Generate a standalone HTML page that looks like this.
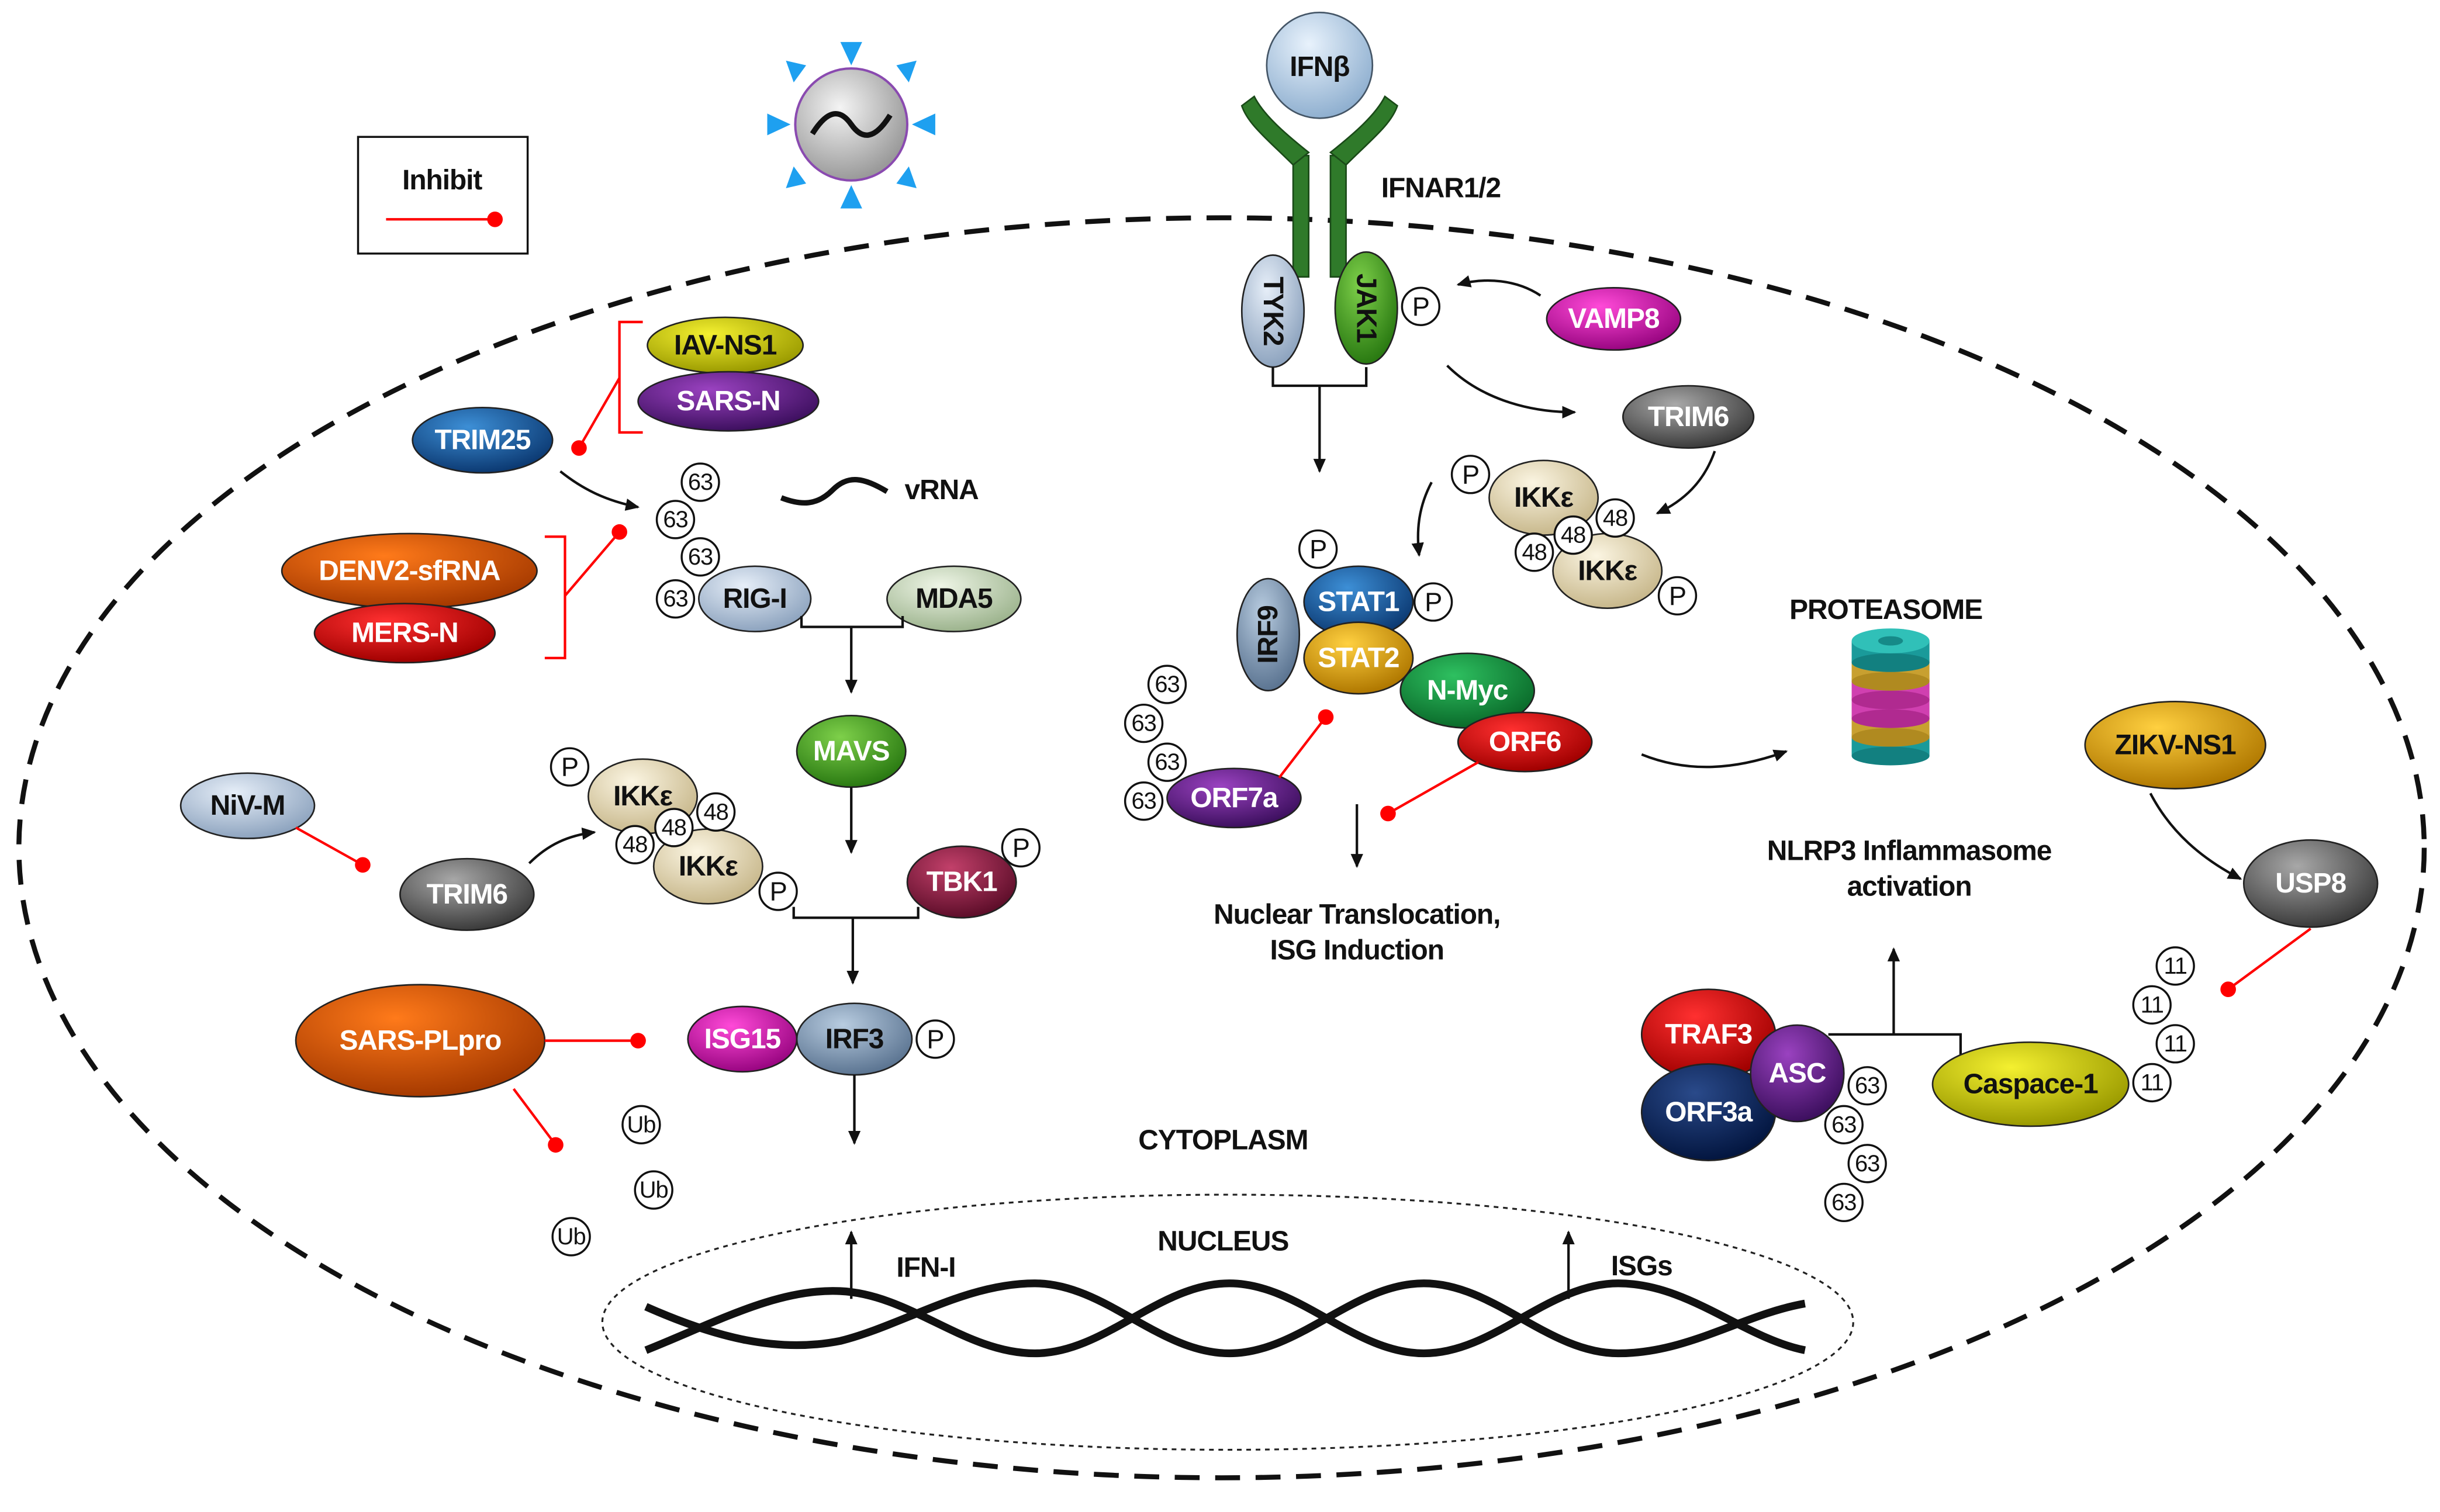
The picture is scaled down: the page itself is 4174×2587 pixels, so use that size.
<!DOCTYPE html>
<html><head><meta charset="utf-8"><style>
html,body{margin:0;padding:0;background:#fff}
svg{display:block}
text{font-family:"Liberation Sans Narrow","Liberation Sans",sans-serif;font-weight:bold;font-size:18px;letter-spacing:-0.4px;text-anchor:middle;dominant-baseline:central}
.w{fill:#fff}.k{fill:#111}
.c{fill:#fff;stroke:#111;stroke-width:1.3}
.cn{font-size:15px;font-weight:normal}
.ln{stroke:#111;stroke-width:1.6;fill:none}
.rd{stroke:#f00;stroke-width:1.6;fill:none}
.e{stroke:#222;stroke-width:1}
</style></head><body>
<svg width="4174" height="2587" viewBox="0 0 1568 972" xmlns="http://www.w3.org/2000/svg">
<defs>
<marker id="ar" markerWidth="10" markerHeight="10" refX="8" refY="5" orient="auto" markerUnits="userSpaceOnUse"><path d="M0,1 L9,5 L0,9 z" fill="#111"/></marker>
<radialGradient id="gBlue" cx="40%" cy="30%" r="70%"><stop offset="0" stop-color="#3d8fd6"/><stop offset="1" stop-color="#0c3a73"/></radialGradient>
<radialGradient id="gOr" cx="40%" cy="30%" r="70%"><stop offset="0" stop-color="#ff7a1a"/><stop offset="1" stop-color="#a63a00"/></radialGradient>
<radialGradient id="gRed" cx="40%" cy="30%" r="70%"><stop offset="0" stop-color="#ff3030"/><stop offset="1" stop-color="#a00000"/></radialGradient>
<radialGradient id="gYel" cx="40%" cy="30%" r="70%"><stop offset="0" stop-color="#f4f030"/><stop offset="1" stop-color="#9a9a00"/></radialGradient>
<radialGradient id="gPur" cx="40%" cy="30%" r="70%"><stop offset="0" stop-color="#9a42c0"/><stop offset="1" stop-color="#3e1060"/></radialGradient>
<radialGradient id="gLb" cx="40%" cy="30%" r="70%"><stop offset="0" stop-color="#e6eef8"/><stop offset="1" stop-color="#8ea4bf"/></radialGradient>
<radialGradient id="gLg" cx="40%" cy="30%" r="70%"><stop offset="0" stop-color="#eef5e6"/><stop offset="1" stop-color="#9db48e"/></radialGradient>
<radialGradient id="gGr" cx="40%" cy="30%" r="70%"><stop offset="0" stop-color="#7ed04a"/><stop offset="1" stop-color="#2a7a12"/></radialGradient>
<radialGradient id="gMar" cx="40%" cy="30%" r="70%"><stop offset="0" stop-color="#c2406a"/><stop offset="1" stop-color="#5e0e2a"/></radialGradient>
<radialGradient id="gGy" cx="40%" cy="30%" r="70%"><stop offset="0" stop-color="#a8a8a8"/><stop offset="1" stop-color="#3c3c3c"/></radialGradient>
<radialGradient id="gBg" cx="40%" cy="30%" r="70%"><stop offset="0" stop-color="#fbf5e2"/><stop offset="1" stop-color="#c8b88c"/></radialGradient>
<radialGradient id="gMag" cx="40%" cy="30%" r="70%"><stop offset="0" stop-color="#ff4ad8"/><stop offset="1" stop-color="#9a0682"/></radialGradient>
<radialGradient id="gBgy" cx="40%" cy="30%" r="70%"><stop offset="0" stop-color="#b8cce0"/><stop offset="1" stop-color="#5c7592"/></radialGradient>
<radialGradient id="gGold" cx="40%" cy="30%" r="70%"><stop offset="0" stop-color="#ffd040"/><stop offset="1" stop-color="#b07800"/></radialGradient>
<radialGradient id="gGrn" cx="40%" cy="30%" r="70%"><stop offset="0" stop-color="#2ec060"/><stop offset="1" stop-color="#0a6a2a"/></radialGradient>
<radialGradient id="gNav" cx="40%" cy="30%" r="70%"><stop offset="0" stop-color="#2a4a8a"/><stop offset="1" stop-color="#031640"/></radialGradient>
<radialGradient id="gVir" cx="40%" cy="35%" r="65%"><stop offset="0" stop-color="#f4f4f4"/><stop offset="1" stop-color="#9a9a9a"/></radialGradient>
<radialGradient id="gIfn" cx="40%" cy="30%" r="70%"><stop offset="0" stop-color="#e8f2fc"/><stop offset="1" stop-color="#90b0d0"/></radialGradient>
</defs>

<!-- legend -->
<rect x="230" y="88" width="109" height="75" fill="#fff" stroke="#111" stroke-width="1.3"/>
<text x="284" y="116" class="k">Inhibit</text>
<line x1="248" y1="141" x2="318" y2="141" class="rd"/><circle cx="318" cy="141" r="5" fill="#f00"/>

<!-- virus -->
<g fill="#1ea0f0">
<polygon points="540,27 554,27 547,42"/><polygon points="540,134 554,134 547,119"/>
<polygon points="493,73 493,87 508,80"/><polygon points="601,73 601,87 586,80"/>
<polygon points="505,39 518,42 510,53"/><polygon points="589,39 576,42 584,53"/>
<polygon points="505,121 518,118 510,107"/><polygon points="589,121 576,118 584,107"/>
</g>
<circle cx="547" cy="80" r="36" fill="url(#gVir)" stroke="#8a4ab0" stroke-width="1.5"/>
<path d="M522,86 C532,70 540,70 547,80 C554,90 562,90 572,74" stroke="#111" stroke-width="3.5" fill="none"/>

<!-- cell & nucleus -->
<ellipse cx="785" cy="545" rx="773" ry="405" fill="none" stroke="#111" stroke-width="3.2" stroke-dasharray="16,10"/>
<ellipse cx="789" cy="850" rx="402" ry="82" fill="none" stroke="#222" stroke-width="1.2" stroke-dasharray="3,3"/>
<path d="M415,840 C460,860 500,870 540,862 C580,852 620,825 665,825 C710,825 745,870 790,870 C835,870 870,825 915,825 C960,825 995,870 1040,870 C1085,870 1120,845 1160,838" stroke="#111" stroke-width="5" fill="none"/>
<path d="M415,868 C460,850 500,828 540,830 C585,832 620,870 665,870 C710,870 745,825 790,825 C835,825 870,870 915,870 C960,870 995,825 1040,825 C1085,825 1120,860 1160,868" stroke="#111" stroke-width="5" fill="none"/>
<line x1="547" y1="835" x2="547" y2="792" class="ln" marker-end="url(#ar)"/>
<line x1="1008" y1="835" x2="1008" y2="792" class="ln" marker-end="url(#ar)"/>
<text x="595" y="815" class="k">IFN-I</text>
<text x="1055" y="814" class="k">ISGs</text>
<text x="786" y="798" class="k">NUCLEUS</text>
<text x="786" y="733" class="k">CYTOPLASM</text>

<!-- receptor -->
<g fill="#2f7a2a" stroke="#1a4a18" stroke-width="1">
<path d="M831,100 L841,100 L841,178 L831,178 z"/><path d="M855,100 L865,100 L865,178 L855,178 z"/>
<path d="M831,106 C815,90 802,80 798,68 L806,62 C812,74 826,86 841,98 z"/><path d="M865,106 C881,90 894,80 898,68 L890,62 C884,74 870,86 855,98 z"/>
</g>
<circle cx="848" cy="42" r="34" fill="url(#gIfn)" stroke="#456" stroke-width="1"/>
<text x="848" y="43" class="k">IFNβ</text>
<text x="926" y="121" class="k">IFNAR1/2</text>
<ellipse cx="818" cy="200" rx="20" ry="36" fill="url(#gLb)" class="e"/>
<text transform="translate(818,200) rotate(90)" class="k">TYK2</text>
<ellipse cx="878" cy="198" rx="20" ry="36" fill="url(#gGr)" class="e"/>
<text transform="translate(878,198) rotate(90)" class="k">JAK1</text>
<circle cx="913" cy="197" r="12" class="c"/><text x="913" y="197" class="k cn" style="font-size:17px">P</text>
<path d="M818,236 L818,248 L878,248 L878,236" class="ln"/>
<line x1="848" y1="248" x2="848" y2="303" class="ln" marker-end="url(#ar)"/>
<ellipse cx="1037" cy="205" rx="43" ry="20" fill="url(#gMag)" class="e"/><text x="1037" y="205" class="w">VAMP8</text>
<path d="M990,190 C975,180 955,178 937,183" class="ln" marker-end="url(#ar)"/>
<path d="M930,235 C950,255 980,265 1012,265" class="ln" marker-end="url(#ar)"/>
<ellipse cx="1085" cy="268" rx="42" ry="20" fill="url(#gGy)" class="e"/><text x="1085" y="268" class="w">TRIM6</text>
<path d="M1102,290 C1095,310 1082,322 1065,330" class="ln" marker-end="url(#ar)"/>
<path d="M920,310 C912,325 910,340 912,357" class="ln" marker-end="url(#ar)"/>
<ellipse cx="992" cy="320" rx="35" ry="24" fill="url(#gBg)" class="e"/><text x="992" y="320" class="k">IKKε</text>
<ellipse cx="1033" cy="367" rx="35" ry="24" fill="url(#gBg)" class="e"/><text x="1033" y="367" class="k">IKKε</text>
<circle cx="1038" cy="333" r="12" class="c"/><text x="1038" y="333" class="k cn">48</text>
<circle cx="1011" cy="344" r="12" class="c"/><text x="1011" y="344" class="k cn">48</text>
<circle cx="986" cy="355" r="12" class="c"/><text x="986" y="355" class="k cn">48</text>
<circle cx="945" cy="305" r="12" class="c"/><text x="945" y="305" class="k cn" style="font-size:17px">P</text>
<circle cx="1078" cy="383" r="12" class="c"/><text x="1078" y="383" class="k cn" style="font-size:17px">P</text>

<!-- STAT complex -->
<circle cx="847" cy="353" r="12" class="c"/><text x="847" y="353" class="k cn" style="font-size:17px">P</text>
<ellipse cx="815" cy="408" rx="20" ry="36" fill="url(#gBgy)" class="e"/>
<text transform="translate(815,408) rotate(-90)" class="k">IRF9</text>
<ellipse cx="873" cy="387" rx="35" ry="23" fill="url(#gBlue)" class="e"/><text x="873" y="387" class="w">STAT1</text>
<circle cx="921" cy="387" r="12" class="c"/><text x="921" y="387" class="k cn" style="font-size:17px">P</text>
<ellipse cx="873" cy="423" rx="35" ry="23" fill="url(#gGold)" class="e"/><text x="873" y="423" class="w">STAT2</text>
<ellipse cx="943" cy="444" rx="43" ry="24" fill="url(#gGrn)" class="e"/><text x="943" y="444" class="w">N-Myc</text>
<ellipse cx="980" cy="477" rx="43" ry="19" fill="url(#gRed)" class="e"/><text x="980" y="477" class="w">ORF6</text>
<circle cx="750" cy="440" r="12" class="c"/><text x="750" y="440" class="k cn">63</text>
<circle cx="735" cy="465" r="12" class="c"/><text x="735" y="465" class="k cn">63</text>
<circle cx="750" cy="490" r="12" class="c"/><text x="750" y="490" class="k cn">63</text>
<circle cx="735" cy="515" r="12" class="c"/><text x="735" y="515" class="k cn">63</text>
<ellipse cx="793" cy="513" rx="43" ry="19" fill="url(#gPur)" class="e"/><text x="793" y="513" class="w">ORF7a</text>
<line x1="822" y1="500" x2="852" y2="461" class="rd"/><circle cx="852" cy="461" r="5" fill="#f00"/>
<line x1="950" y1="490" x2="892" y2="523" class="rd"/><circle cx="892" cy="523" r="5" fill="#f00"/>
<line x1="872" y1="517" x2="872" y2="557" class="ln" marker-end="url(#ar)"/>
<text x="872" y="588" class="k">Nuclear Translocation,</text>
<text x="872" y="611" class="k">ISG Induction</text>

<!-- proteasome -->
<text x="1212" y="392" class="k">PROTEASOME</text>
<g transform="translate(0,12)" stroke="none">
<rect x="1190" y="460" width="50" height="14" fill="#1a9a9a"/><ellipse cx="1215" cy="474" rx="25" ry="6" fill="#128080"/>
<rect x="1190" y="448" width="50" height="14" fill="#c8a030"/><ellipse cx="1215" cy="462" rx="25" ry="6" fill="#b08a20"/>
<rect x="1190" y="436" width="50" height="14" fill="#d040b0"/><ellipse cx="1215" cy="450" rx="25" ry="6" fill="#b02a90"/>
<rect x="1190" y="424" width="50" height="14" fill="#d040b0"/><ellipse cx="1215" cy="438" rx="25" ry="6" fill="#b02a90"/>
<rect x="1190" y="412" width="50" height="14" fill="#c8a030"/><ellipse cx="1215" cy="426" rx="25" ry="6" fill="#b08a20"/>
<rect x="1190" y="400" width="50" height="14" fill="#1a9a9a"/><ellipse cx="1215" cy="414" rx="25" ry="6" fill="#128080"/>
<ellipse cx="1215" cy="400" rx="25" ry="8" fill="#30c0b8"/><ellipse cx="1215" cy="400" rx="8" ry="3" fill="#168a88"/>
</g>
<path d="M1055,485 C1085,497 1115,495 1148,483" class="ln" marker-end="url(#ar)"/>

<!-- right side -->
<ellipse cx="1398" cy="479" rx="58" ry="28" fill="url(#gGold)" class="e"/><text x="1398" y="479" class="k">ZIKV-NS1</text>
<path d="M1382,510 C1395,535 1415,552 1440,565" class="ln" marker-end="url(#ar)"/>
<ellipse cx="1485" cy="568" rx="43" ry="28" fill="url(#gGy)" class="e"/><text x="1485" y="568" class="w">USP8</text>
<line x1="1485" y1="597" x2="1432" y2="636" class="rd"/><circle cx="1432" cy="636" r="5" fill="#f00"/>
<text x="1227" y="547" class="k">NLRP3 Inflammasome</text>
<text x="1227" y="570" class="k">activation</text>
<line x1="1217" y1="665" x2="1217" y2="610" class="ln" marker-end="url(#ar)"/>
<path d="M1175,665 L1260,665 L1260,680" class="ln"/>
<ellipse cx="1098" cy="665" rx="43" ry="29" fill="url(#gRed)" class="e"/><text x="1098" y="665" class="w">TRAF3</text>
<ellipse cx="1098" cy="715" rx="43" ry="31" fill="url(#gNav)" class="e"/><text x="1098" y="715" class="w">ORF3a</text>
<ellipse cx="1155" cy="690" rx="30" ry="31" fill="url(#gPur)" class="e"/><text x="1155" y="690" class="w">ASC</text>
<circle cx="1200" cy="698" r="12" class="c"/><text x="1200" y="698" class="k cn">63</text>
<circle cx="1185" cy="723" r="12" class="c"/><text x="1185" y="723" class="k cn">63</text>
<circle cx="1200" cy="748" r="12" class="c"/><text x="1200" y="748" class="k cn">63</text>
<circle cx="1185" cy="773" r="12" class="c"/><text x="1185" y="773" class="k cn">63</text>
<ellipse cx="1305" cy="697" rx="63" ry="27" fill="url(#gYel)" class="e"/><text x="1305" y="697" class="k">Caspace-1</text>
<circle cx="1398" cy="621" r="12" class="c"/><text x="1398" y="621" class="k cn">11</text>
<circle cx="1383" cy="646" r="12" class="c"/><text x="1383" y="646" class="k cn">11</text>
<circle cx="1398" cy="671" r="12" class="c"/><text x="1398" y="671" class="k cn">11</text>
<circle cx="1383" cy="696" r="12" class="c"/><text x="1383" y="696" class="k cn">11</text>

<!-- left top -->
<ellipse cx="466" cy="222" rx="50" ry="18" fill="url(#gYel)" class="e"/><text x="466" y="222" class="k">IAV-NS1</text>
<ellipse cx="468" cy="258" rx="58" ry="19" fill="url(#gPur)" class="e"/><text x="468" y="258" class="w">SARS-N</text>
<path d="M413,207 L398,207 L398,278 L413,278" class="rd"/>
<line x1="398" y1="243" x2="372" y2="288" class="rd"/><circle cx="372" cy="288" r="5" fill="#f00"/>
<ellipse cx="310" cy="283" rx="45" ry="21" fill="url(#gBlue)" class="e"/><text x="310" y="283" class="w">TRIM25</text>
<path d="M360,303 C375,315 390,322 410,326" class="ln" marker-end="url(#ar)"/>
<circle cx="450" cy="310" r="12" class="c"/><text x="450" y="310" class="k cn">63</text>
<circle cx="434" cy="334" r="12" class="c"/><text x="434" y="334" class="k cn">63</text>
<circle cx="450" cy="358" r="12" class="c"/><text x="450" y="358" class="k cn">63</text>
<circle cx="434" cy="385" r="12" class="c"/><text x="434" y="385" class="k cn">63</text>
<ellipse cx="485" cy="385" rx="36" ry="21" fill="url(#gLb)" class="e"/><text x="485" y="385" class="k">RIG-I</text>
<ellipse cx="613" cy="385" rx="43" ry="21" fill="url(#gLg)" class="e"/><text x="613" y="385" class="k">MDA5</text>
<path d="M515,396 L515,403 L580,403 L580,396" class="ln"/>
<line x1="547" y1="403" x2="547" y2="445" class="ln" marker-end="url(#ar)"/>
<path d="M502,320 C515,325 525,325 535,315 C545,305 555,307 570,316" stroke="#111" stroke-width="3.5" fill="none"/>
<text x="605" y="315" class="k">vRNA</text>
<ellipse cx="263" cy="367" rx="82" ry="24" fill="url(#gOr)" class="e"/><text x="263" y="367" class="w">DENV2-sfRNA</text>
<ellipse cx="260" cy="407" rx="58" ry="19" fill="url(#gRed)" class="e"/><text x="260" y="407" class="w">MERS-N</text>
<path d="M350,345 L363,345 L363,423 L350,423" class="rd"/>
<line x1="363" y1="383" x2="398" y2="342" class="rd"/><circle cx="398" cy="342" r="5" fill="#f00"/>
<ellipse cx="547" cy="483" rx="35" ry="23" fill="url(#gGr)" class="e"/><text x="547" y="483" class="w">MAVS</text>
<line x1="547" y1="506" x2="547" y2="548" class="ln" marker-end="url(#ar)"/>
<ellipse cx="618" cy="567" rx="35" ry="23" fill="url(#gMar)" class="e"/><text x="618" y="567" class="w">TBK1</text>
<circle cx="656" cy="545" r="12" class="c"/><text x="656" y="545" class="k cn" style="font-size:17px">P</text>
<path d="M510,583 L510,590 L590,590 L590,583" class="ln"/>
<line x1="548" y1="590" x2="548" y2="632" class="ln" marker-end="url(#ar)"/>

<!-- left middle -->
<ellipse cx="159" cy="518" rx="43" ry="21" fill="url(#gLb)" class="e"/><text x="159" y="518" class="k">NiV-M</text>
<line x1="190" y1="532" x2="233" y2="556" class="rd"/><circle cx="233" cy="556" r="5" fill="#f00"/>
<ellipse cx="300" cy="575" rx="43" ry="23" fill="url(#gGy)" class="e"/><text x="300" y="575" class="w">TRIM6</text>
<path d="M340,555 C352,543 365,537 382,535" class="ln" marker-end="url(#ar)"/>
<ellipse cx="413" cy="512" rx="35" ry="24" fill="url(#gBg)" class="e"/><text x="413" y="512" class="k">IKKε</text>
<ellipse cx="455" cy="557" rx="35" ry="24" fill="url(#gBg)" class="e"/><text x="455" y="557" class="k">IKKε</text>
<circle cx="460" cy="522" r="12" class="c"/><text x="460" y="522" class="k cn">48</text>
<circle cx="433" cy="532" r="12" class="c"/><text x="433" y="532" class="k cn">48</text>
<circle cx="408" cy="543" r="12" class="c"/><text x="408" y="543" class="k cn">48</text>
<circle cx="366" cy="493" r="12" class="c"/><text x="366" y="493" class="k cn" style="font-size:17px">P</text>
<circle cx="500" cy="573" r="12" class="c"/><text x="500" y="573" class="k cn" style="font-size:17px">P</text>

<!-- left bottom -->
<ellipse cx="270" cy="669" rx="80" ry="36" fill="url(#gOr)" class="e"/><text x="270" y="669" class="w">SARS-PLpro</text>
<line x1="350" y1="669" x2="410" y2="669" class="rd"/><circle cx="410" cy="669" r="5" fill="#f00"/>
<line x1="330" y1="700" x2="357" y2="736" class="rd"/><circle cx="357" cy="736" r="5" fill="#f00"/>
<ellipse cx="477" cy="668" rx="35" ry="21" fill="url(#gMag)" class="e"/><text x="477" y="668" class="w">ISG15</text>
<ellipse cx="549" cy="668" rx="37" ry="23" fill="url(#gBgy)" class="e"/><text x="549" y="668" class="k">IRF3</text>
<circle cx="601" cy="668" r="12" class="c"/><text x="601" y="668" class="k cn" style="font-size:17px">P</text>
<line x1="549" y1="691" x2="549" y2="735" class="ln" marker-end="url(#ar)"/>
<circle cx="412" cy="723" r="12" class="c"/><text x="412" y="723" class="k cn">Ub</text>
<circle cx="420" cy="765" r="12" class="c"/><text x="420" y="765" class="k cn">Ub</text>
<circle cx="367" cy="795" r="12" class="c"/><text x="367" y="795" class="k cn">Ub</text>
</svg>
</body></html>
